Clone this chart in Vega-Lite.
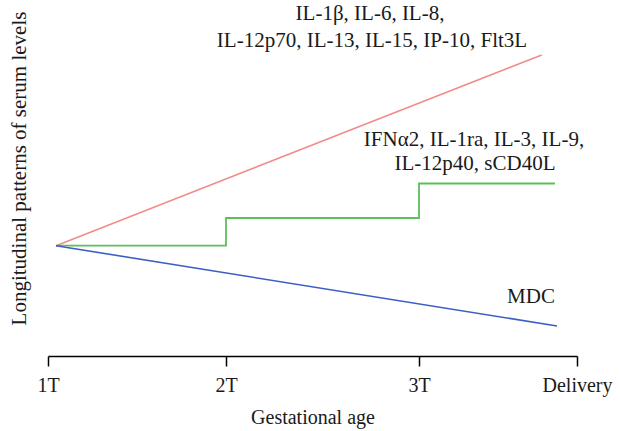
{
  "$schema": "https://vega.github.io/schema/vega-lite/v6.json",
  "width": 529,
  "height": 356,
  "autosize": {"type": "none"},
  "padding": {"left": 48, "top": 0, "right": 43, "bottom": 75},
  "background": "white",
  "config": {
    "view": {"stroke": null},
    "font": "Liberation Serif",
    "text": {"font": "Liberation Serif", "fontSize": 21, "color": "#1a1a1a"}
  },
  "datasets": {
    "lines": [
      {"series": "up", "x": 8, "y": 110.3},
      {"series": "up", "x": 493.7, "y": 301},
      {"series": "step", "x": 8, "y": 110.3},
      {"series": "step", "x": 178, "y": 138},
      {"series": "step", "x": 371, "y": 172.5},
      {"series": "step", "x": 507, "y": 172.5},
      {"series": "down", "x": 8, "y": 110.3},
      {"series": "down", "x": 509, "y": 30}
    ],
    "labels": [
      {"x": 322, "y": 342, "label": "IL-1β, IL-6, IL-8,"},
      {"x": 324, "y": 315, "label": "IL-12p70, IL-13, IL-15, IP-10, Flt3L"},
      {"x": 426, "y": 216, "label": "IFNα2, IL-1ra, IL-3, IL-9,"},
      {"x": 427, "y": 192, "label": "IL-12p40, sCD40L"},
      {"x": 483, "y": 59, "label": "MDC"}
    ]
  },
  "layer": [
    {
      "data": {"name": "lines"},
      "transform": [{"filter": "datum.series == 'up'"}],
      "mark": {"type": "line", "color": "#f28c8c", "strokeWidth": 1.6},
      "encoding": {
        "x": {
          "field": "x", "type": "quantitative",
          "scale": {"domain": [0, 529], "nice": false, "zero": false},
          "axis": {
            "values": [0, 178, 371, 529],
            "labelExpr": "datum.value == 0 ? '1T' : datum.value == 178 ? '2T' : datum.value == 371 ? '3T' : 'Delivery'",
            "grid": false,
            "domainColor": "#000000", "domainWidth": 1.5,
            "tickColor": "#000000", "tickWidth": 1.5, "tickSize": 10,
            "labelFont": "Liberation Serif", "labelFontSize": 20, "labelColor": "#1a1a1a",
            "labelPadding": 9, "labelFlush": false, "labelOverlap": false,
            "title": "Gestational age",
            "titleFont": "Liberation Serif", "titleFontSize": 20, "titleFontWeight": "normal",
            "titleColor": "#1a1a1a", "titlePadding": 12
          }
        },
        "y": {
          "field": "y", "type": "quantitative",
          "scale": {"domain": [0, 356], "nice": false, "zero": false},
          "axis": {
            "domain": false, "ticks": false, "labels": false, "grid": false,
            "title": "Longitudinal patterns of serum levels",
            "titleFont": "Liberation Serif", "titleFontSize": 21, "titleFontWeight": "normal",
            "titleColor": "#1a1a1a",
            "titleX": -29, "titleY": 168, "titleAngle": -90,
            "titleAlign": "center", "titleBaseline": "middle"
          }
        }
      }
    },
    {
      "data": {"name": "lines"},
      "transform": [{"filter": "datum.series == 'step'"}],
      "mark": {"type": "line", "color": "#5cbf5c", "strokeWidth": 1.8, "interpolate": "step-after"},
      "encoding": {
        "x": {"field": "x", "type": "quantitative"},
        "y": {"field": "y", "type": "quantitative"}
      }
    },
    {
      "data": {"name": "lines"},
      "transform": [{"filter": "datum.series == 'down'"}],
      "mark": {"type": "line", "color": "#3b5fc4", "strokeWidth": 1.6},
      "encoding": {
        "x": {"field": "x", "type": "quantitative"},
        "y": {"field": "y", "type": "quantitative"}
      }
    },
    {
      "data": {"name": "labels"},
      "mark": {"type": "text", "align": "center", "baseline": "middle"},
      "encoding": {
        "x": {"field": "x", "type": "quantitative"},
        "y": {"field": "y", "type": "quantitative"},
        "text": {"field": "label"}
      }
    }
  ]
}
